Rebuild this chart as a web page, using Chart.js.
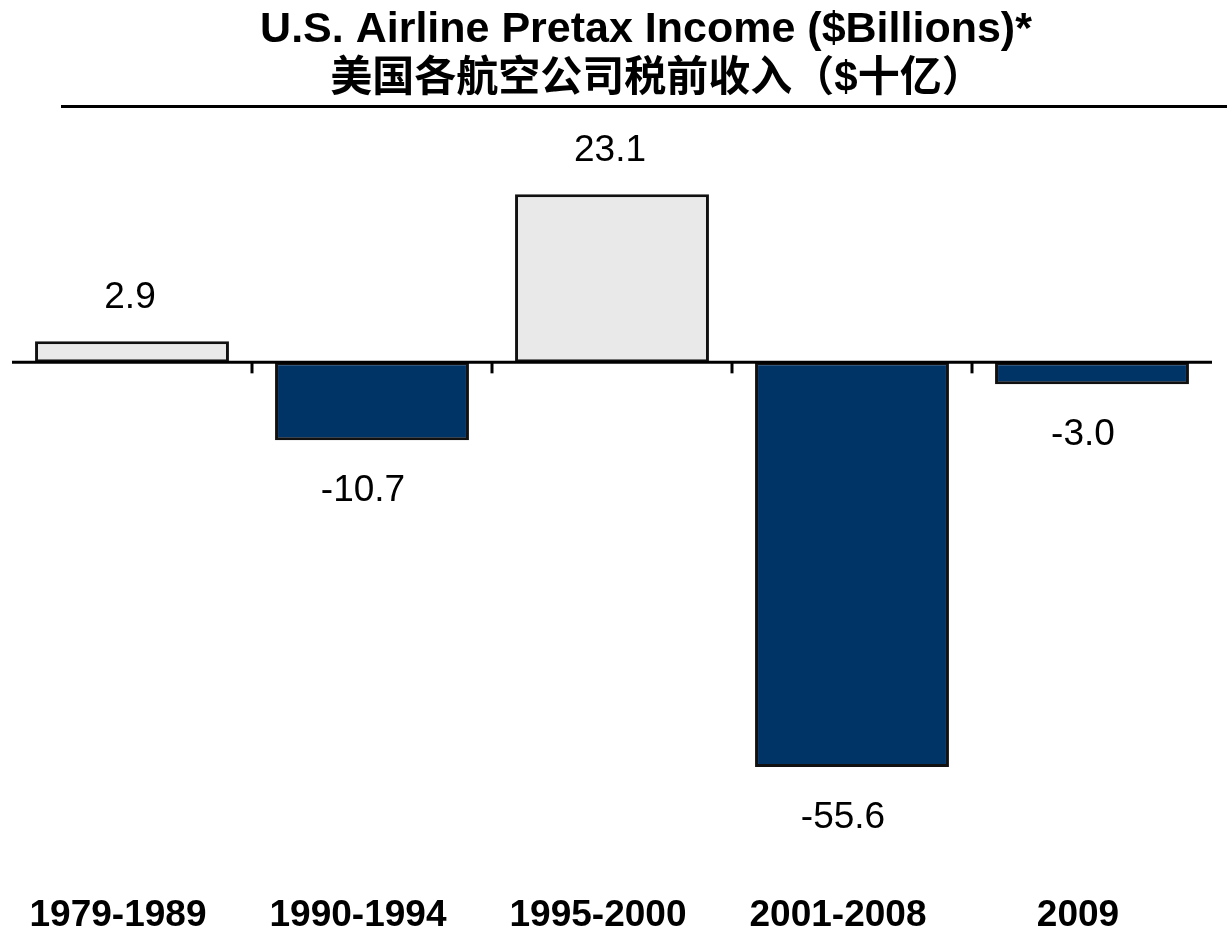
<!DOCTYPE html>
<html>
<head>
<meta charset="utf-8">
<script src="https://cdn.jsdelivr.net/npm/chart.js@4.4.1/dist/chart.umd.min.js"></script>
<style>
  html, body { margin: 0; padding: 0; background: #ffffff; }
  #wrap { width: 1227px; height: 931px; position: relative; }
</style>
</head>
<body>
<div id="wrap"><canvas id="chart" width="1227" height="931"></canvas></div>
<script>
// Periods and pretax income, $ billions
const periods = ['1979-1989', '1990-1994', '1995-2000', '2001-2008', '2009'];
const pretaxIncome = [2.9, -10.7, 23.1, -55.6, -3.0];
const titleLines = ['U.S. Airline Pretax Income ($Billions)*', '美国各航空公司税前收入（$十亿）'];

const PROFIT_FILL = '#e9e9e9';
const LOSS_FILL = '#003366';
const LATIN = '"Liberation Sans", Arial, sans-serif';
const CJK = '"Liberation Sans", "Noto Sans CJK SC", sans-serif';

// Title block with the rule beneath it
const titlePlugin = {
  id: 'titleBlock',
  afterDraw(chart) {
    const ctx = chart.ctx;
    ctx.save();
    ctx.fillStyle = '#000';
    ctx.textAlign = 'center';
    ctx.textBaseline = 'middle';
    ctx.font = 'bold 43px ' + LATIN;
    ctx.fillText(titleLines[0], 646, 30);
    ctx.font = 'bold 42px ' + CJK;
    ctx.fillText(titleLines[1], 657, 79);
    ctx.fillRect(61, 105, 1227 - 61, 3);
    ctx.restore();
  }
};

// Zero line, short separators between categories, and category names
const axisPlugin = {
  id: 'zeroAxis',
  afterDatasetsDraw(chart) {
    const x = chart.scales.x, y = chart.scales.y;
    const y0 = y.getPixelForValue(0);
    const ctx = chart.ctx;
    ctx.save();
    ctx.strokeStyle = '#000';
    ctx.lineWidth = 3;
    ctx.beginPath();
    ctx.moveTo(chart.chartArea.left, y0);
    ctx.lineTo(chart.chartArea.right, y0);
    ctx.stroke();
    for (let i = 0; i < periods.length - 1; i++) {
      const bx = (x.getPixelForValue(i) + x.getPixelForValue(i + 1)) / 2;
      ctx.beginPath();
      ctx.moveTo(bx, y0);
      ctx.lineTo(bx, y0 + 11);
      ctx.stroke();
    }
    ctx.fillStyle = '#000';
    ctx.font = 'bold 37px ' + LATIN;
    ctx.textAlign = 'center';
    ctx.textBaseline = 'middle';
    periods.forEach((p, i) => {
      ctx.fillText(p, x.getPixelForValue(i) - 14, 916);
    });
    ctx.restore();
  }
};

// Value labels above positive bars and below negative ones
const valueLabelPlugin = {
  id: 'valueLabels',
  afterDatasetsDraw(chart) {
    const meta = chart.getDatasetMeta(0);
    const ctx = chart.ctx;
    ctx.save();
    ctx.fillStyle = '#000';
    ctx.font = '37px ' + LATIN;
    ctx.textAlign = 'center';
    ctx.textBaseline = 'middle';
    meta.data.forEach((bar, i) => {
      const v = pretaxIncome[i];
      const ly = v >= 0 ? bar.y - 43 : bar.y + 51;
      const lx = v >= 0 ? bar.x - 2 : bar.x - 9;
      ctx.fillText(v.toFixed(1), lx, ly);
    });
    ctx.restore();
  }
};

new Chart(document.getElementById('chart'), {
  type: 'bar',
  data: {
    labels: periods,
    datasets: [{
      data: pretaxIncome,
      backgroundColor: ctx => (ctx.raw >= 0 ? PROFIT_FILL : LOSS_FILL),
      borderColor: '#111111',
      borderWidth: 3,
      borderSkipped: false,
      categoryPercentage: 0.808,
      barPercentage: 1.0
    }]
  },
  options: {
    responsive: false,
    animation: false,
    devicePixelRatio: 1,
    layout: { padding: { left: 12, right: 15, top: 144, bottom: 132 } },
    plugins: {
      legend: { display: false },
      title: { display: false },
      tooltip: { enabled: false }
    },
    scales: {
      x: {
        display: true,
        grid: { display: false, drawTicks: false },
        border: { display: false },
        ticks: { display: false }
      },
      y: {
        display: true,
        min: -60,
        max: 30,
        grid: { display: false, drawTicks: false },
        border: { display: false },
        ticks: { display: false, stepSize: 10 }
      }
    }
  },
  plugins: [titlePlugin, axisPlugin, valueLabelPlugin]
});
</script>
</body>
</html>
